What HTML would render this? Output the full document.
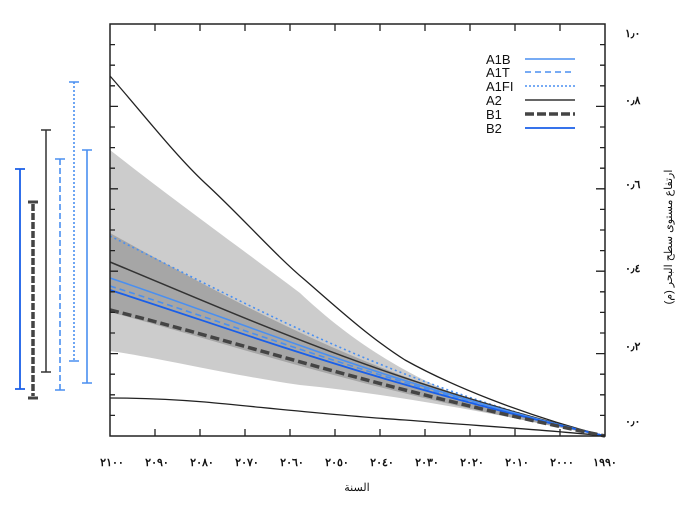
<!DOCTYPE html>
<html><head><meta charset="utf-8"><style>
html,body{margin:0;padding:0;background:#fff;}
svg{display:block;font-family:"Liberation Sans","Noto Sans CJK SC",sans-serif;}
</style></head><body>
<svg width="700" height="509" viewBox="0 0 700 509" xmlns="http://www.w3.org/2000/svg">
<!-- bands -->
<path d="M110,150 C180,205 250,255 300,293 C350,340 440,410 605,436 C500,415 400,395 300,385 C230,375 160,358 110,351 Z" fill="#cccccc"/>
<path d="M110,233 C250,310 380,385 605,436 C380,395 250,350 110,312 Z" fill="#a6a6a6"/>
<!-- series -->
<g fill="none">
<path d="M110,76 C140,110 175,155 205,183 C240,215 275,255 305,280 C335,306 370,338 405,360 C450,385 520,414 605,436" stroke="#222" stroke-width="1.3"/>
<path d="M110,398 C150,398 180,400 205,402 C260,407 340,416 405,420 C480,426 550,430 605,436" stroke="#222" stroke-width="1.3"/>
<path d="M110,236 C250,305 390,385 605,436" stroke="#4a8ff0" stroke-width="1.6" stroke-dasharray="2,3"/>
<path d="M110,262 C250,320 380,380 605,436" stroke="#333" stroke-width="1.5"/>
<path d="M110,278 C250,325 380,382 605,436" stroke="#4a8ff0" stroke-width="1.6"/>
<path d="M110,286 C250,330 380,383 605,436" stroke="#4a8ff0" stroke-width="1.6" stroke-dasharray="6,4"/>
<path d="M110,290 C250,335 380,385 605,436" stroke="#1a5fe8" stroke-width="1.8"/>
<path d="M110,310 C250,345 380,390 605,436" stroke="#444" stroke-width="3.5" stroke-dasharray="9,4"/>
</g>
<!-- frame -->
<rect x="110" y="24" width="495" height="412" fill="none" stroke="#222" stroke-width="1.5"/>
<g stroke="#222" stroke-width="1.3">
<path d="M155,436v-7M200,436v-7M245,436v-7M290,436v-7M335,436v-7M380,436v-7M425,436v-7M470,436v-7M515,436v-7M560,436v-7"/>
<path d="M155,24v7M200,24v7M245,24v7M290,24v7M335,24v7M380,24v7M425,24v7M470,24v7M515,24v7M560,24v7"/>
<path d="M110,353.6h8M110,271.2h8M110,188.8h8M110,106.4h8M605,353.6h-9M605,271.2h-9M605,188.8h-9M605,106.4h-9"/>
<path d="M110,415.4h5M110,394.8h5M110,374.2h5M110,333h5M110,312.4h5M110,291.8h5M110,250.6h5M110,230h5M110,209.4h5M110,168.2h5M110,147.6h5M110,127h5M110,85.8h5M110,65.2h5M110,44.6h5"/>
<path d="M605,415.4h-5M605,394.8h-5M605,374.2h-5M605,333h-5M605,312.4h-5M605,291.8h-5M605,250.6h-5M605,230h-5M605,209.4h-5M605,168.2h-5M605,147.6h-5M605,127h-5M605,85.8h-5M605,65.2h-5M605,44.6h-5"/>
</g>
<!-- x labels -->
<g font-size="11" text-anchor="middle" fill="#111" font-weight="bold">
<text x="112" y="466">٢١٠٠</text><text x="157" y="466">٢٠٩٠</text><text x="202" y="466">٢٠٨٠</text><text x="247" y="466">٢٠٧٠</text><text x="292" y="466">٢٠٦٠</text><text x="337" y="466">٢٠٥٠</text><text x="382" y="466">٢٠٤٠</text><text x="427" y="466">٢٠٣٠</text><text x="472" y="466">٢٠٢٠</text><text x="517" y="466">٢٠١٠</text><text x="562" y="466">٢٠٠٠</text><text x="605" y="466">١٩٩٠</text>
</g>
<text x="357" y="491" font-size="11" text-anchor="middle" fill="#111">السنة</text>
<g font-size="11" fill="#111" font-weight="bold" direction="ltr">
<text x="625" y="37">١٫٠</text><text x="625" y="104">٠٫٨</text><text x="625" y="188">٠٫٦</text><text x="625" y="272">٠٫٤</text><text x="625" y="350">٠٫٢</text><text x="625" y="425">٠٫٠</text>
</g>
<text transform="translate(672,237) rotate(-90)" font-size="11" text-anchor="middle" fill="#111">ارتفاع مستوى سطح البحر (م)</text>
<!-- legend -->
<g font-size="13" fill="#111">
<text x="486" y="64">A1B</text><text x="486" y="77">A1T</text><text x="486" y="91">A1FI</text><text x="486" y="105">A2</text><text x="486" y="119">B1</text><text x="486" y="133">B2</text>
</g>
<g fill="none">
<path d="M525,59h50" stroke="#4a8ff0" stroke-width="1.6"/>
<path d="M525,72h50" stroke="#4a8ff0" stroke-width="1.6" stroke-dasharray="6,4"/>
<path d="M525,86h50" stroke="#4a8ff0" stroke-width="1.6" stroke-dasharray="2,2"/>
<path d="M525,100h50" stroke="#333" stroke-width="1.5"/>
<path d="M525,114h50" stroke="#444" stroke-width="3.5" stroke-dasharray="9,3"/>
<path d="M525,128h50" stroke="#1a5fe8" stroke-width="1.8"/>
</g>
<!-- left range bars -->
<g fill="none">
<path d="M20,169V389M15,169h10M15,389h10" stroke="#1a5fe8" stroke-width="1.8"/>
<path d="M33,204V396" stroke="#444" stroke-width="3.5" stroke-dasharray="7,2"/>
<path d="M28,202h10M28,398h10" stroke="#444" stroke-width="3"/>
<path d="M46,130V372M41,130h10M41,372h10" stroke="#333" stroke-width="1.5"/>
<path d="M60,159V390" stroke="#4a8ff0" stroke-width="1.6" stroke-dasharray="6,3"/>
<path d="M55,159h10M55,390h10" stroke="#4a8ff0" stroke-width="1.6"/>
<path d="M74,82V361" stroke="#4a8ff0" stroke-width="1.6" stroke-dasharray="2,2"/>
<path d="M69,82h10M69,361h10" stroke="#4a8ff0" stroke-width="1.6"/>
<path d="M87,150V383M82,150h10M82,383h10" stroke="#4a8ff0" stroke-width="1.6"/>
</g>
</svg>
</body></html>
